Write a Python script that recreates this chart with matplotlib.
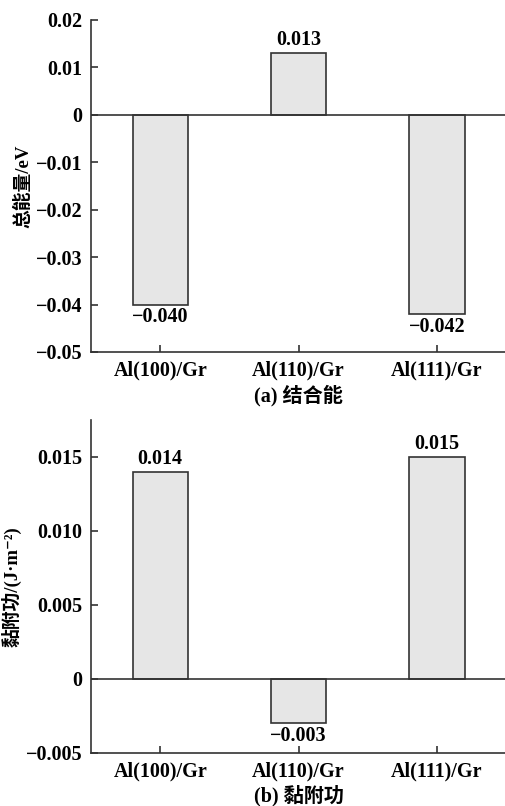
import matplotlib
matplotlib.use("Agg")
import matplotlib.pyplot as plt
from matplotlib.ticker import FixedLocator, FixedFormatter

plt.rcParams['font.family'] = ['Liberation Serif', 'Noto Sans CJK SC', 'DejaVu Sans']
plt.rcParams['font.weight'] = 'bold'
plt.rcParams['axes.unicode_minus'] = True

categories = ['Al(100)/Gr', 'Al(110)/Gr', 'Al(111)/Gr']
binding_energy = [-0.040, 0.013, -0.042]
adhesion_work = [0.014, -0.003, 0.015]

top_ticks = [0.02, 0.01, 0, -0.01, -0.02, -0.03, -0.04, -0.05]
top_ticklabels = ['0.02', '0.01', '0', '\u22120.01', '\u22120.02', '\u22120.03', '\u22120.04', '\u22120.05']
bot_ticks = [0.015, 0.010, 0.005, 0, -0.005]
bot_ticklabels = ['0.015', '0.010', '0.005', '0', '\u22120.005']

fs = 14.5
bar_color = '#e6e6e6'
edge = '#333333'

fig = plt.figure(figsize=(5.06, 8.06), dpi=100)
ax1 = fig.add_axes([0.18, 0.5633, 0.82, 0.412])
ax2 = fig.add_axes([0.18, 0.0658, 0.82, 0.4132])


def fmt(v):
    s = '%.3f' % abs(v)
    return ('\u2212' + s) if v < 0 else s


def draw(ax, vals, ylim, ticks, ticklabels, ylabel, xlabel, off):
    x = list(range(len(categories)))
    ax.bar(x, vals, width=0.4, color=bar_color, edgecolor=edge, linewidth=1.2, zorder=2)
    ax.axhline(0, color=edge, linewidth=1.2, zorder=3)
    for xi, v in zip(x, vals):
        if v >= 0:
            ax.text(xi, v + off, fmt(v), ha='center', va='bottom', fontsize=fs, fontweight='bold')
        else:
            ax.text(xi, v - off, fmt(v), ha='center', va='top', fontsize=fs, fontweight='bold')
    ax.set_xlim(-0.5, 2.5)
    ax.set_ylim(*ylim)
    ax.yaxis.set_major_locator(FixedLocator(ticks))
    ax.yaxis.set_major_formatter(FixedFormatter(ticklabels))
    ax.set_xticks(x)
    ax.set_xticklabels(categories)
    ax.tick_params(direction='in', length=5, width=1.2, color=edge, labelsize=fs, pad=6)
    for lab in ax.get_xticklabels() + ax.get_yticklabels():
        lab.set_fontweight('bold')
    for s in ['top', 'right']:
        ax.spines[s].set_visible(False)
    for s in ['left', 'bottom']:
        ax.spines[s].set_linewidth(1.2)
        ax.spines[s].set_color(edge)
    ax.set_ylabel(ylabel, fontsize=fs - 1, fontweight='bold', labelpad=3)
    ax.set_xlabel(xlabel, fontsize=fs, fontweight='bold', labelpad=3)


draw(ax1, binding_energy, (-0.05, 0.02), top_ticks, top_ticklabels,
     '总能量/eV', '(a) 结合能', 0.0006)
draw(ax2, adhesion_work, (-0.005, 0.0175), bot_ticks, bot_ticklabels,
     '黏附功/(J\u00b7m\u207b\u00b2)', '(b) 黏附功', 0.0002)

fig.savefig('out.png', dpi=100)
